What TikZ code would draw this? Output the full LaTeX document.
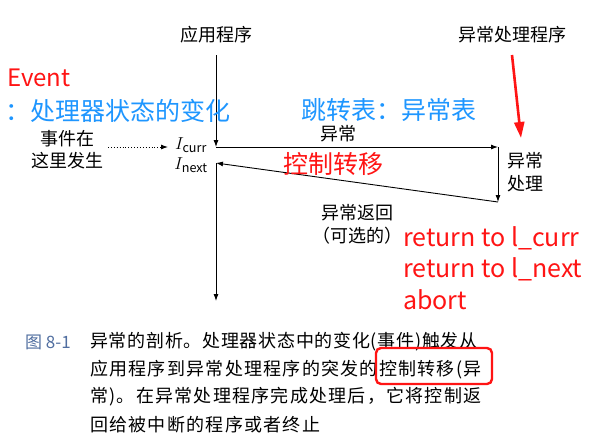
\documentclass[tikz,border=0pt]{standalone}
\usepackage{amsmath}
\usepackage{fontspec}
\setmainfont{Noto Sans CJK SC}
\usetikzlibrary{arrows.meta}
\definecolor{notered}{RGB}{255,20,20}
\definecolor{noteblue}{RGB}{30,150,255}
\definecolor{figblue}{RGB}{80,110,160}
\tikzset{
  txt/.style={font=\fontsize{18}{20}\selectfont, inner sep=0pt},
  rednote/.style={text=notered, font=\fontsize{25}{28}\selectfont, inner sep=0pt},
  bluenote/.style={text=noteblue, font=\fontsize{25}{28}\selectfont, inner sep=0pt},
  capline/.style={anchor=west, inner sep=0pt,
    font=\fontsize{18}{20}\selectfont\addfontfeature{LetterSpace=7}},
  flow/.style={-{Latex[length=7pt,width=5pt]}, line width=0.9pt}
}

\begin{document}
\begin{tikzpicture}[x=1pt, y=-1pt]
\useasboundingbox[fill=white] (0,0) rectangle (595,445);
% labels of the two programs
\node[txt] (app) at (216,35) {应用程序};
\node[txt] (handler) at (512,35) {异常处理程序};
\node[txt] (icurr) at (191,145) {$I_{\text{curr}}$};
\node[txt] (inext) at (191,165) {$I_{\text{next}}$};
\node[txt] (ev1) at (67,139) {事件在};
\node[txt] (ev2) at (67,161) {这里发生};
\node[txt] (exclbl) at (338,134) {异常};
\node[txt] (hd1) at (525,161) {异常};
\node[txt] (hd2) at (525,184) {处理};
\node[txt] (ret1) at (357,213) {异常返回};
\node[txt] (ret2) at (357,236) {（可选的）};

\coordinate (top) at (216,55);
\coordinate (curr) at (216,147);
\coordinate (exc) at (498,147);
\coordinate (hend) at (498,202);
\coordinate (next) at (216,163);
\coordinate (bottom) at (216,301);
\coordinate (dotstart) at (108,147);
\coordinate (dotend) at (168,147);

\draw[flow] (top) -- (curr);
\draw[flow] (curr) -- (exc);
\draw[flow] (exc) -- (hend);
\draw[flow] (hend) -- (next);
\draw[line width=0.9pt] (next) -- ++(0,2);
\draw[flow] (216,165) -- (bottom);
\draw[flow, dotted] (dotstart) -- (dotend);

% notes
\node[rednote, anchor=west, font=\fontsize{24}{27}\selectfont] (event) at (7,78) {Event};
\node[bluenote, anchor=west] (change) at (5,111) {：处理器状态的变化};
\node[bluenote] (table) at (389,110) {跳转表：异常表};
\node[rednote] (ctrl) at (333,164) {控制转移};
\node[rednote, anchor=west] (r1) at (403,238) {return to l\_curr};
\node[rednote, anchor=west] (r2) at (403,269) {return to l\_next};
\node[rednote, anchor=west] (r3) at (403,300) {abort};
\coordinate (redtip) at (521,138);
\draw[-{Triangle[length=16pt,width=10pt]}, line width=2.6pt, notered] (512,55) -- (redtip);

% caption
\node[anchor=west, inner sep=0pt, text=figblue, font=\fontsize{17}{19}\selectfont] (fig) at (25,342) {图 8-1};
\node[capline, font=\fontsize{18}{20}\selectfont\addfontfeature{LetterSpace=4}] (c1) at (90,342) {异常的剖析。处理器状态中的变化(事件)触发从};
\node[capline] (c2) at (90,370) {应用程序到异常处理程序的突发的控制转移(异};
\node[capline] (c3) at (90,397) {常)。在异常处理程序完成处理后，它将控制返};
\node[capline] (c4) at (90,425) {回给被中断的程序或者终止};
\draw[notered, line width=2.4pt, rounded corners=5pt] (376,348) rectangle (492,384);
\end{tikzpicture}
\end{document}
